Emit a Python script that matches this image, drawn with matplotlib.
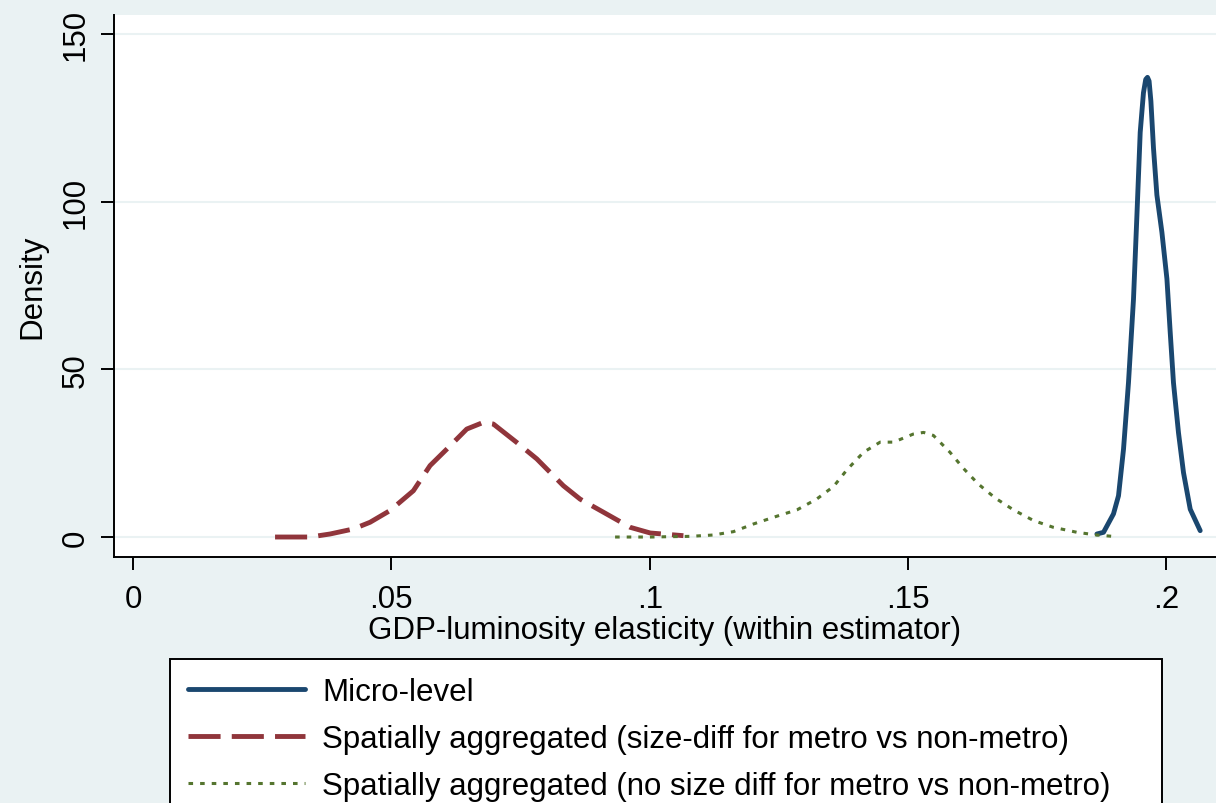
import numpy as np
import matplotlib
matplotlib.use("Agg")
import matplotlib.pyplot as plt

plt.rcParams['font.family'] = ['Liberation Sans', 'DejaVu Sans']

# kernel density curves
micro_x = [0.18655, 0.18783, 0.18976, 0.19073, 0.19170, 0.19266, 0.19363, 0.19429,
           0.19493, 0.19556, 0.19600, 0.19634, 0.19665, 0.19700, 0.19750, 0.19816,
           0.19913, 0.20010, 0.20074, 0.20137, 0.20234, 0.20331, 0.20461, 0.20654]
micro_y = [0.9, 1.4, 6.9, 12.3, 26.2, 46.0, 70.9, 95.8, 120.7, 132.5, 136.5, 137.1,
           136.0, 130.0, 116.0, 102.0, 90.9, 77.0, 61.0, 46.0, 31.1, 19.2, 8.3, 1.9]

sizediff_x = [0.02749, 0.03426, 0.03813, 0.04265, 0.04588, 0.04975, 0.05426, 0.05749,
              0.06072, 0.06459, 0.06781, 0.06974, 0.07427, 0.07815, 0.08329, 0.08653,
              0.09104, 0.09621, 0.1001, 0.10652]
sizediff_y = [0.0, 0.0, 0.9, 2.4, 4.4, 7.9, 13.8, 21.3, 26.2, 32.2, 34.2, 33.7, 28.2,
              23.3, 15.3, 11.3, 7.4, 2.9, 1.2, 0.4]

nodiff_x = [0.0933, 0.1001, 0.1078, 0.1123, 0.1162, 0.1201, 0.1246, 0.1285, 0.1323,
            0.1356, 0.1382, 0.1414, 0.1446, 0.1472, 0.1510, 0.1530, 0.1549, 0.1581,
            0.1607, 0.1636, 0.1669, 0.1704, 0.1743, 0.1781, 0.1827, 0.1865, 0.1904]
nodiff_y = [0.0, 0.0, 0.2, 0.6, 1.6, 3.9, 6.2, 8.1, 11.3, 15.1, 20.1, 25.3, 28.3, 28.3,
            30.7, 31.2, 30.3, 25.3, 20.5, 15.8, 11.6, 8.1, 4.9, 2.9, 1.4, 0.6, 0.1]

labels = ["Micro-level",
          "Spatially aggregated (size-diff for metro vs non-metro)",
          "Spatially aggregated (no size diff for metro vs non-metro)"]

x_ticks = [0, 0.05, 0.1, 0.15, 0.2]
x_ticklabels = ["0", ".05", ".1", ".15", ".2"]
y_ticks = [0, 50, 100, 150]

bg = "#EAF2F3"
fs = 22.5

fig = plt.figure(figsize=(12.16, 8.04), dpi=100, facecolor=bg)
ax = fig.add_axes([114/1216, 1 - 558/804, 1 - 114/1216, (558 - 16)/804])
ax.set_facecolor("white")

l1, = ax.plot(micro_x, micro_y, color="#1A476F", lw=3.5,
              solid_joinstyle="round", solid_capstyle="round")
l2, = ax.plot(sizediff_x, sizediff_y, color="#90353B", lw=3.5, dashes=(6.6, 2.3))
l3, = ax.plot(nodiff_x, nodiff_y, color="#55752F", lw=2.2, dashes=(1.5, 2.3))

ax.set_xlim(-0.00368, 0.2096)
ax.set_ylim(-5.96, 155.7)
ax.set_xticks(x_ticks)
ax.set_xticklabels(x_ticklabels)
ax.set_yticks(y_ticks)
ax.set_yticklabels([str(v) for v in y_ticks], rotation=90, va="center")
ax.grid(axis="y", color=bg, lw=1.5)
ax.set_axisbelow(True)

for side in ["top", "right"]:
    ax.spines[side].set_visible(False)
for side in ["left", "bottom"]:
    ax.spines[side].set_linewidth(1.4)
ax.tick_params(axis="x", labelsize=fs, length=9.5, width=1.4, pad=10)
ax.tick_params(axis="y", labelsize=fs, length=9.5, width=1.4, pad=7)

ax.set_xlabel("GDP-luminosity elasticity (within estimator)", fontsize=fs, labelpad=1)
ax.set_ylabel("Density", fontsize=fs, labelpad=10)

leg = fig.legend([l1, l2, l3], labels, loc="upper left",
                 bbox_to_anchor=(170/1216, 0, 992/1216, 1 - 660/804), mode="expand",
                 fontsize=fs, frameon=True, fancybox=False, edgecolor="black",
                 facecolor="white", framealpha=1,
                 borderaxespad=0, borderpad=0.58, handlelength=3.75,
                 handletextpad=0.55, labelspacing=0.54)
leg.get_frame().set_linewidth(1.4)

fig.savefig("out.png", dpi=100, facecolor=bg)
